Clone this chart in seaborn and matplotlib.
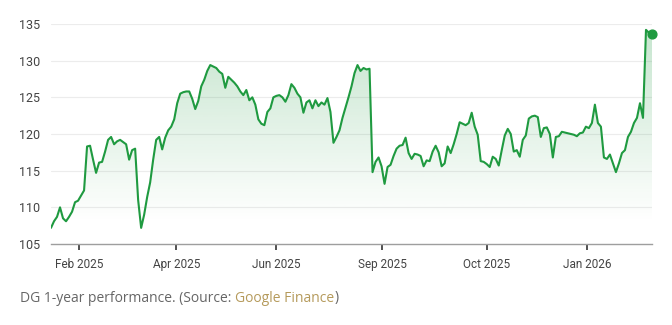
import numpy as np
import matplotlib
matplotlib.use("Agg")
import matplotlib.pyplot as plt
from matplotlib.colors import LinearSegmentedColormap
import seaborn as sns

# DG closing price, one value per sampled session
prices = [
    107.2, 108.1, 108.7, 110.0, 108.5, 108.1, 108.7, 109.4, 110.7, 110.9,
    111.6, 112.3, 118.3, 118.4, 116.5, 114.7, 116.1, 116.2, 117.6, 119.2,
    119.6, 118.6, 119.0, 119.2, 118.9, 118.6, 116.5, 117.8, 118.0, 111.0,
    107.2, 109.0, 111.4, 113.4, 116.5, 119.2, 119.6, 117.9, 119.5, 120.5,
    121.0, 122.0, 124.2, 125.5, 125.7, 125.8, 125.8, 124.8, 123.4, 124.5,
    126.5, 127.4, 128.6, 129.4, 129.2, 129.0, 128.5, 128.2, 126.3, 127.8,
    127.4, 127.0, 126.5, 125.8, 125.3, 126.0, 124.6, 125.0, 124.0, 122.0,
    121.4, 121.2, 123.0, 123.5, 125.0, 125.2, 125.3, 125.0, 124.4, 125.3,
    126.8, 126.3, 125.5, 125.0, 122.9, 124.3, 124.6, 123.5, 124.6, 123.8,
    124.3, 124.0, 124.9, 123.0, 118.8, 119.6, 120.5, 122.2, 123.6, 125.0,
    126.5, 128.3, 129.4, 128.6, 129.0, 128.8, 128.9, 114.8, 116.2, 116.8,
    115.6, 113.2, 115.5, 115.8, 117.0, 118.0, 118.4, 118.5, 119.5, 117.4,
    116.6, 117.3, 117.2, 117.0, 115.6, 116.4, 116.3, 117.6, 118.4, 117.5,
    115.6, 116.0, 118.3, 117.4, 118.6, 120.0, 121.6, 121.4, 121.2, 121.5,
    122.9, 121.0, 119.9, 116.3, 116.2, 115.9, 115.5, 116.9, 116.6, 115.7,
    117.8, 119.8, 120.7, 120.0, 117.6, 117.8, 116.9, 119.2, 119.8, 122.1,
    122.4, 122.5, 122.3, 119.6, 120.8, 120.9, 120.0, 116.8, 119.6, 119.7,
    120.3, 120.2, 120.1, 120.0, 119.9, 119.7, 120.1, 120.2, 121.0, 120.8,
    121.5, 124.0, 121.5, 121.0, 116.8, 116.6, 117.2, 116.0, 114.8, 116.0,
    117.4, 117.8, 119.6, 120.3, 121.5, 122.2, 124.2, 122.2, 134.2, 133.8,
    133.6,
]

tick_labels = ["Feb 2025", "Apr 2025", "Jun 2025", "Sep 2025", "Oct 2025", "Jan 2026"]
tick_sessions = [9.3, 41.7, 75.0, 110.3, 145.0, 178.3]
y_ticks = [105, 110, 115, 120, 125, 130, 135]

sessions = np.arange(len(prices))
values = np.array(prices)

sns.set_theme(style="white")
plt.rcParams["font.family"] = ["Roboto", "DejaVu Sans"]

GREEN = "#1f9a40"
fig = plt.figure(figsize=(6.72, 3.25), dpi=100)
ax = fig.add_axes([51 / 672, (325 - 244) / 325, (652 - 51) / 672, (244 - 24) / 325])

ymin, ymax = 105, 135
ax.set_xlim(0, len(prices) - 1)
ax.set_ylim(ymin, ymax)

# gradient fill under the price line
fill = ax.fill_between(sessions, values, ymin, color="none", lw=0)
cmap = LinearSegmentedColormap.from_list(
    "fade", [(0.12, 0.60, 0.25, 0.0), (0.12, 0.60, 0.25, 0.26)])
grad = np.linspace(0, 1, 256).reshape(-1, 1)
img = ax.imshow(grad, cmap=cmap, aspect="auto", origin="lower",
                extent=[0, len(prices) - 1, ymin + 3, ymax], zorder=1)
path = fill.get_paths()[0]
img.set_clip_path(path, transform=ax.transData)

sns.lineplot(x=sessions, y=values, ax=ax, color=GREEN, linewidth=1.5, zorder=3)
ax.scatter([sessions[-1]], [values[-1]], s=40, color=GREEN, zorder=4, clip_on=False)

# grid and axes styling
for yv in y_ticks[1:]:
    ax.axhline(yv, color="#ececec", lw=0.8, zorder=0)
for side in ["top", "right", "left"]:
    ax.spines[side].set_visible(False)
ax.spines["bottom"].set_color("#9e9e9e")
ax.spines["bottom"].set_linewidth(1.0)

ax.set_yticks(y_ticks)
ax.set_yticklabels([str(v) for v in y_ticks])
ax.set_xticks(tick_sessions)
ax.set_xticklabels(tick_labels)
ax.tick_params(axis="y", length=0, pad=8, labelsize=9, labelcolor="#444444")
ax.tick_params(axis="x", length=4, width=1.2, color="#333333", pad=6,
               labelsize=8.5, labelcolor="#444444", bottom=True)

# caption with a coloured source link
cap_font = ["Open Sans", "DejaVu Sans"]
cap_y = 1 - 298 / 325
t1 = fig.text(20 / 672, cap_y, "DG 1-year performance. (Source: ",
              fontsize=10, color="#666666", va="center", family=cap_font)
t2 = fig.text(0, 0, "Google Finance", fontsize=10, color="#b59a5b", va="center",
              family=cap_font)
t3 = fig.text(0, 0, ")", fontsize=10, color="#666666", va="center", family=cap_font)
fig.canvas.draw()
r = fig.canvas.get_renderer()
bb1 = t1.get_window_extent(r)
t2.set_position((bb1.x1 / fig.bbox.width, cap_y))
fig.canvas.draw()
bb2 = t2.get_window_extent(r)
t3.set_position((bb2.x1 / fig.bbox.width, cap_y))

fig.savefig("out.png", dpi=100, facecolor="white")
